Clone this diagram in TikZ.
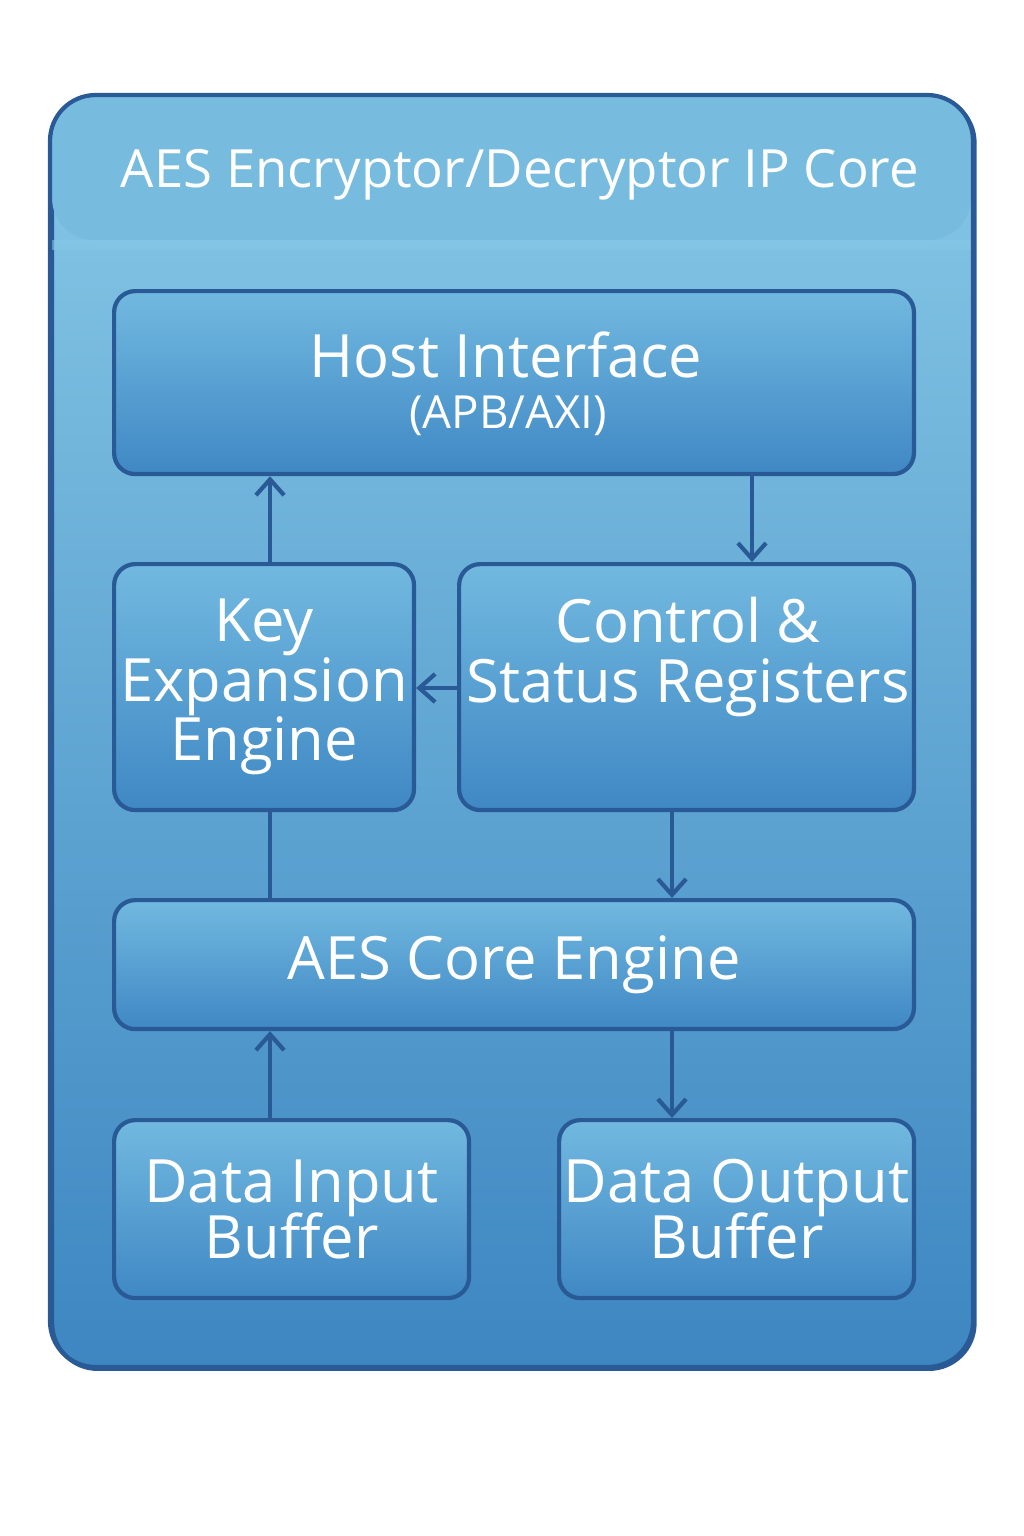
\documentclass[tikz,border=0pt]{standalone}
\usepackage{fontspec}
\setmainfont{Open Sans}
\usepackage{xcolor}
\definecolor{aesline}{HTML}{2A5A96}
\definecolor{aestop}{HTML}{86C8E6}
\definecolor{aesbot}{HTML}{3D86C1}
\definecolor{blktop}{HTML}{72B9E0}
\definecolor{blkbot}{HTML}{3F88C4}
\usetikzlibrary{arrows.meta}

\begin{document}
\begin{tikzpicture}[x=0.02cm,y=-0.02cm,>={Straight Barb[length=9pt,width=16pt]},line width=2.4pt]
            \tikzstyle{blk}=[draw=aesline,rounded corners=12pt,top color=blktop,bottom color=blkbot,
                             anchor=north west,inner sep=0pt,align=center,text=white,font=\fontsize{34}{38}\selectfont]
            \tikzstyle{ln}=[draw=aesline,line width=2.4pt]

            \useasboundingbox (0,0) rectangle (1024,1536);
            % outer frame
            \node[draw=aesline,rounded corners=26pt,top color=aestop,bottom color=aesbot,
                  minimum width=1.84cm*10.0285,minimum height=25.44cm,anchor=north west,inner sep=0pt] (core) at (50,95) {};
            \fill[aestop!80!aesbot,rounded corners=24pt] (52,97) -- (52,240) -- (971,240) -- (971,97) -- cycle;
            \fill[aestop,opacity=0.6] (52,240) rectangle (971,250);
            \draw[aesline,rounded corners=26pt] (50,1367) -- (50,95) -- (973,95) -- (973,1367) -- cycle;
            \node[text=white,font=\fontsize{30}{34}\selectfont] (title) at (520,175) {AES Encryptor/Decryptor IP Core};

            % blocks
            \node[blk,minimum width=16cm,minimum height=3.66cm] (host) at (112,289) {};
            \node[text=white,font=\fontsize{34}{38}\selectfont] at (506,355) {Host Interface};
            \node[text=white,font=\fontsize{26}{30}\selectfont] at (508,416) {(APB/AXI)};
            \node[blk,minimum width=6cm,minimum height=4.92cm] (key) at (112,562)
                  {Key\\[-4pt]Expansion\\[-4pt]Engine};
            \node[blk,minimum width=9.1cm,minimum height=4.92cm] (ctrl) at (457,562) {};
            \node[text=white,font=\fontsize{34}{38}\selectfont,align=center] at (688,657) {Control \&\\[-4pt]Status Registers};
            \node[blk,minimum width=16cm,minimum height=2.58cm] (eng) at (112,898) {AES Core Engine};
            \node[blk,minimum width=7.1cm,minimum height=3.56cm] (din) at (112,1118) {Data Input\\[-6pt]Buffer};
            \node[blk,minimum width=7.1cm,minimum height=3.56cm] (dout) at (557,1118) {Data Output\\[-6pt]Buffer};

            % connectors
            \draw[ln,->] (key.north -| 270,0) -- (host.south -| 270,0);
            \draw[ln,->] (host.south -| 752,0) -- (ctrl.north -| 752,0);
            \draw[ln,->] (ctrl.west |- 0,688) -- (key.east |- 0,688);
            \draw[ln,->] (ctrl.south -| 672,0) -- (eng.north -| 672,0);
            \draw[ln] (key.south -| 270,0) -- (eng.north -| 270,0);
            \draw[ln,->] (din.north -| 270,0) -- (eng.south -| 270,0);
            \draw[ln,->] (eng.south -| 672,0) -- (dout.north -| 672,0);
\end{tikzpicture}
\end{document}
